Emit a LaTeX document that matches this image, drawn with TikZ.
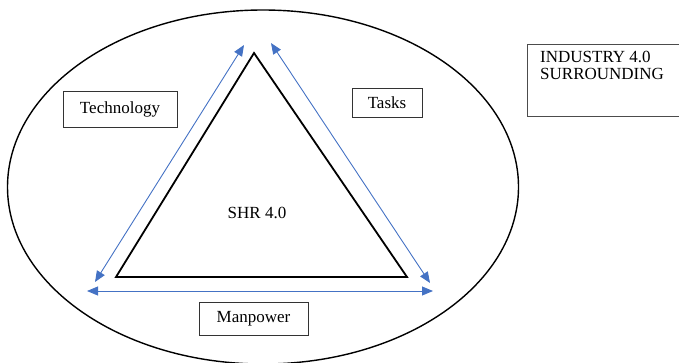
\documentclass[tikz,border=0pt]{standalone}
\usepackage{fontspec}
\setmainfont{Liberation Serif}
\usetikzlibrary{arrows.meta}
\definecolor{linkblue}{RGB}{68,114,196}
\begin{document}
\begin{tikzpicture}[x=1pt,y=-1pt,
  txt/.style={font=\fontsize{17}{17}\selectfont},
  labelbox/.style={txt,draw=black!80,line width=0.9pt,inner sep=0pt},
  link/.style={draw=linkblue,line width=0.9pt,{Triangle[length=11pt,width=9pt]}-{Triangle[length=11pt,width=9pt]}}]
  \useasboundingbox (0,0) rectangle (679,362);
  % surrounding environment
  \draw[line width=1.4pt] (263,187) ellipse [x radius=255.5, y radius=177];
  % core triangle
  \draw[line width=1.8pt,line join=miter] (254,53) -- (407,277) -- (116,277) -- cycle;
  \node[txt] (shr) at (257,213) {SHR 4.0};
  % labelled boxes
  \node[labelbox,minimum width=114pt,minimum height=36pt] (tech) at (120,109) {Technology};
  \node[labelbox,minimum width=70pt,minimum height=29pt] (tasks) at (387,102.5) {Tasks};
  \node[labelbox,minimum width=109pt,minimum height=33pt] (man) at (253.5,318.5) {Manpower};
  \draw[black!70,line width=0.9pt] (682,44) -- (527,44) -- (527,116) -- (682,116);
  \node[txt,anchor=north west,align=left,inner sep=0pt] (ind) at (540,51) {INDUSTRY 4.0\\SURROUNDING};
  % two-way relations along the triangle sides
  \coordinate (tl) at (244,45);
  \coordinate (bl) at (95,282);
  \coordinate (tr) at (271,43);
  \coordinate (br) at (430,283);
  \coordinate (hl) at (87,291);
  \coordinate (hr) at (433,291);
  \draw[link] (bl) -- (tl);
  \draw[link] (tr) -- (br);
  \draw[link] (hl) -- (hr);
\end{tikzpicture}
\end{document}
